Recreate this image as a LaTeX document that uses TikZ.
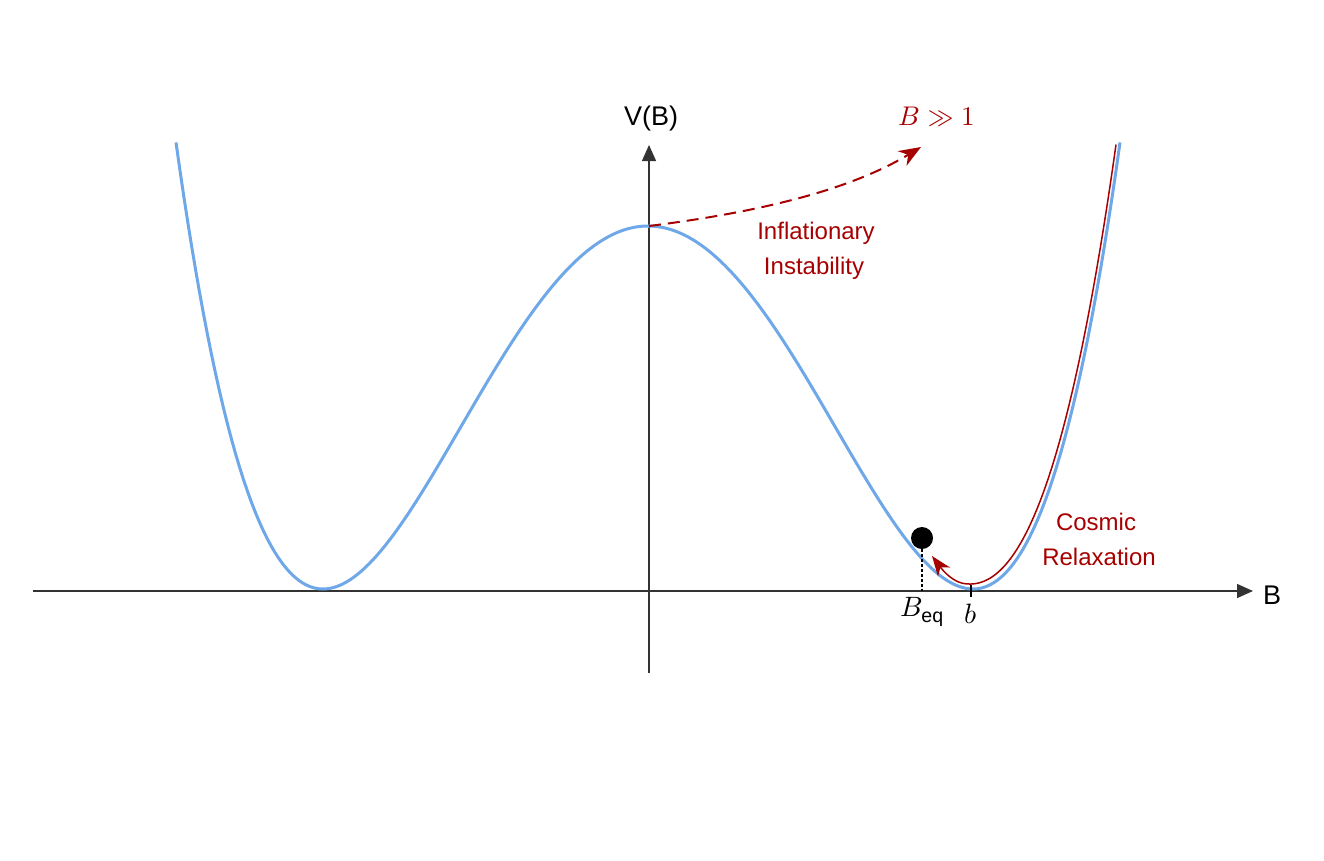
\documentclass[tikz,border=0pt]{standalone}
\usepackage{amsmath}
\usepackage{unicode-math}
\setmainfont{Liberation Sans}
\setmathfont{Latin Modern Math}
\usetikzlibrary{arrows.meta}
\definecolor{curveblue}{RGB}{111,168,232}
\definecolor{relred}{RGB}{166,0,0}
\definecolor{axisgray}{RGB}{51,51,51}
\tikzset{
  axisline/.style={draw=axisgray, line width=1.4pt, -{Triangle[length=16pt,width=14pt]}},
  redlabel/.style={text=relred, font=\fontsize{24}{28}\selectfont, inner sep=0pt},
  axlabel/.style={text=black, font=\fontsize{27}{31}\selectfont, inner sep=0pt},
  mathlabel/.style={text=black, font=\fontsize{28}{32}\selectfont, inner sep=0pt},
}
\begin{document}
\begin{tikzpicture}[x=1pt,y=-1pt]
\useasboundingbox (0,0) rectangle (1324,860);
% axes
\coordinate (xl) at (33,591);
\coordinate (xr) at (1253,591);
\coordinate (yb) at (649,673);
\coordinate (yt) at (649,145);
\draw[axisline] (xl) -- (xr);
\draw[axisline] (yb) -- (yt);
\draw[axisgray, line width=1pt] (640,226) -- (658,226);
\node[axlabel] (vlab) at (651,119) {V(B)};
\node[axlabel] (blab) at (1272,595) {B};
% potential
\draw[curveblue, line width=3pt] plot[domain=176:1120, samples=240]
  (\x, {589 - 363*(1-((\x-648)/325)^2)^2});
% relaxation path
\draw[relred, line width=1.5pt, -{Stealth[length=20pt,width=15pt,inset=6pt]}]
  plot[domain=1116:962, samples=120] (\x, {584 - 363*(1-((\x+3-648)/325)^2)^2})
  .. controls (950,580) and (941,568) .. (932,556);
% inflationary arrow
\coordinate (top) at (649,226);
\coordinate (far) at (921,147);
\draw[relred, line width=2pt, dash pattern=on 12pt off 7pt, -{Stealth[length=22pt,width=17pt,inset=7pt]}]
  (top) .. controls (760,212) and (850,190) .. (far);
\node[text=relred, font=\fontsize{27}{31}\selectfont, inner sep=0pt] (big) at (937,117) {$B \gg 1$};
\node[redlabel] (inf1) at (816,233) {Inflationary};
\node[redlabel] (inf2) at (814,268) {Instability};
\node[redlabel] (cos1) at (1096,522) {Cosmic};
\node[redlabel] (cos2) at (1099,557) {Relaxation};
% ball and markers
\node[circle, fill=black, minimum size=22pt, inner sep=0pt] (ball) at (922,538) {};
\coordinate (beqfoot) at (922,591);
\draw[black, line width=1.2pt, dash pattern=on 3pt off 2pt] (ball.south) -- (beqfoot);
\coordinate (bt1) at (971,585);
\coordinate (bt2) at (971,597);
\draw[black, line width=1.4pt] (bt1) -- (bt2);
\node[mathlabel] (beq) at (922,612) {$B_{\text{eq}}$};
\node[mathlabel] (bmin) at (971,614) {$b$};
\end{tikzpicture}
\end{document}
